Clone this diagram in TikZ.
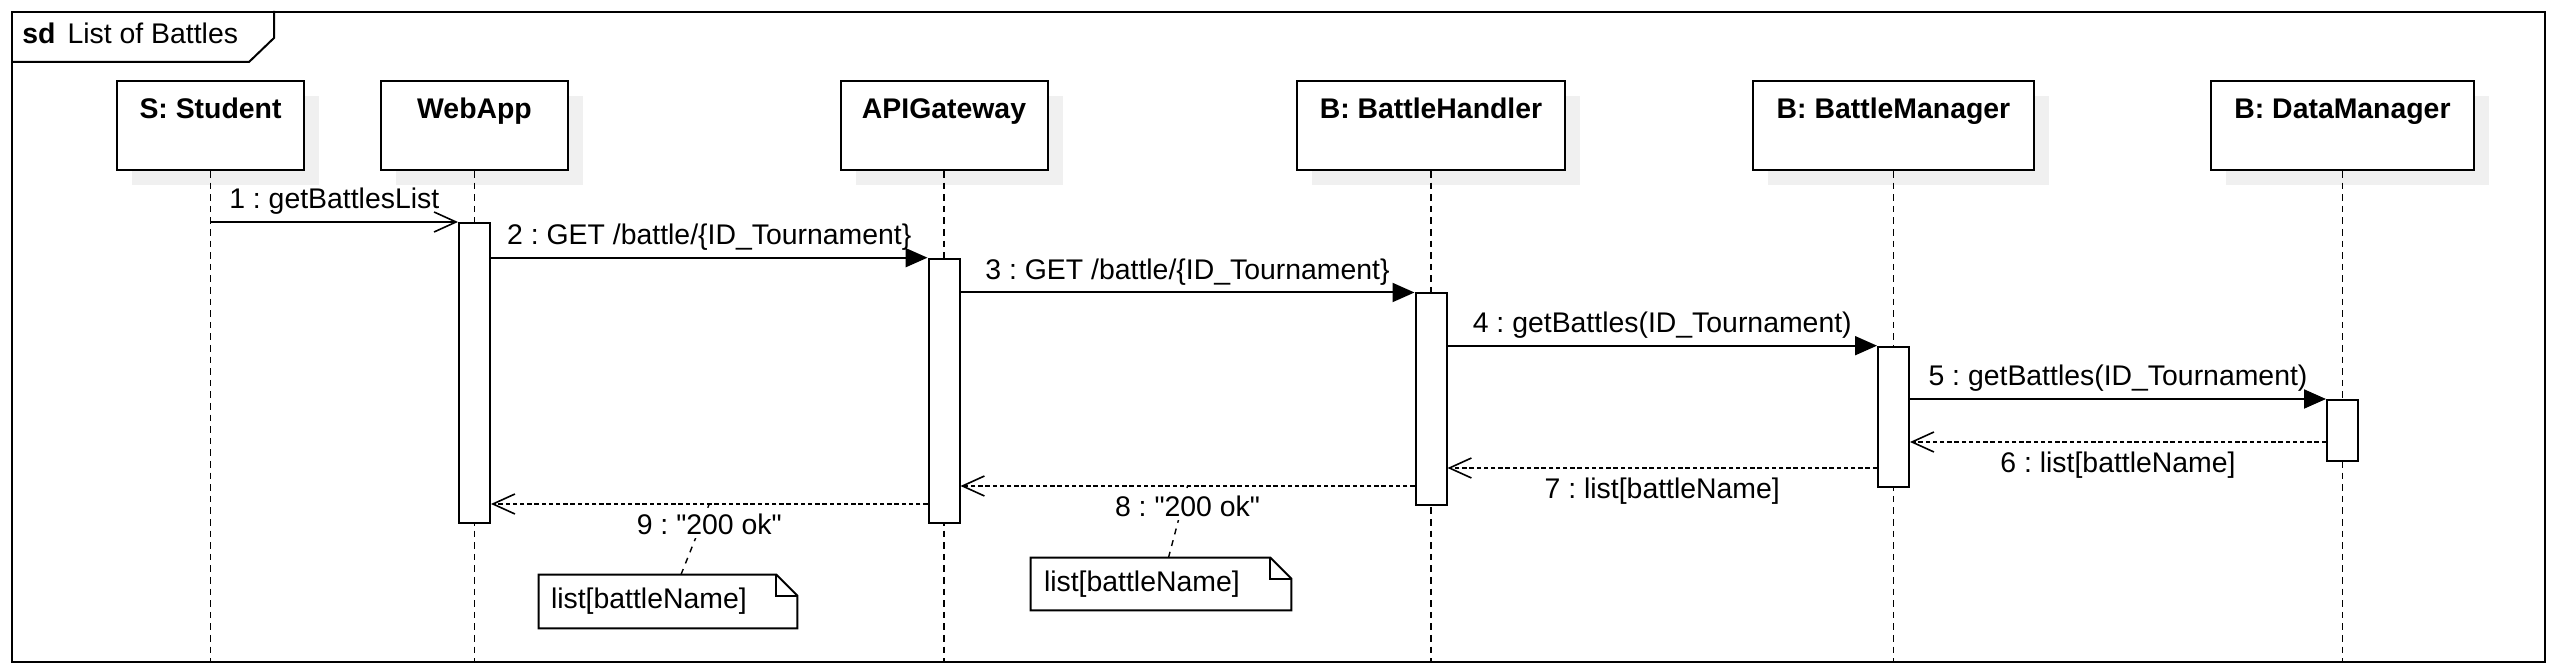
\documentclass[tikz,border=0pt]{standalone}
\usepackage{fontspec}
\setmainfont{Liberation Sans}[Ligatures=TeXOff]
\usetikzlibrary{arrows.meta,shadows,calc}
\newcommand{\labfont}{\fontsize{14.2}{17}\selectfont}
\frenchspacing
\begin{document}
\begin{tikzpicture}[x=0.5pt,y=-0.5pt,font=\labfont,
  head/.style={draw, line width=1pt, fill=white, minimum height=44.5pt, inner sep=0pt,
    drop shadow={shadow xshift=7.5pt, shadow yshift=-7.5pt, fill=black!6, opacity=1}},
  headtitle/.style={font=\labfont\bfseries, anchor=base, inner sep=0pt},
  lifeline/.style={line width=0.6pt, dash pattern=on 3.3pt off 2.5pt},
  act/.style={draw, line width=1pt, fill=white, minimum width=15.5pt, inner sep=0pt, anchor=north},
  syncmsg/.style={line width=1pt, -{Triangle[length=11pt,width=9.5pt]}},
  asyncmsg/.style={line width=0.9pt, -{Straight Barb[length=11pt,width=10pt,line width=0.8pt]}},
  retmsg/.style={line width=0.9pt, dash pattern=on 2.2pt off 1.4pt, -{Straight Barb[length=11pt,width=10pt,line width=0.8pt,sep=0pt]}},
  msglab/.style={anchor=base, inner sep=0pt, yshift=6.5pt},
  retlab/.style={anchor=base, inner sep=1.5pt, fill=white, yshift=-15.5pt},
  notebox/.style={minimum height=26.5pt, minimum width=129pt, inner xsep=6pt, inner ysep=0pt, text width=117pt, align=left},
  noteline/.style={line width=0.7pt, dash pattern=on 3pt off 3pt},
]
\useasboundingbox (0,0) rectangle (2556,672);

% frame
\node[draw, line width=1pt, minimum width=1266.5pt, minimum height=325pt, anchor=north west, inner sep=0pt] (frame) at (11,11) {};
\draw[line width=1pt] (frame.north west) ++(263,0) -- ++(0,27) -- ++(-25,24) -- ++(-238,0);
\node[anchor=base west, inner sep=0pt] (framelab) at (22,44) {\textbf{sd}\hspace{6pt}List of Battles};
\coordinate (bottom) at (0,661);

% lifeline heads
\node[head, minimum width=93.5pt] (student) at (210.5,125.5) {};
\node[head, minimum width=93.5pt] (webapp) at (474.5,125.5) {};
\node[head, minimum width=103.5pt] (api) at (944,125.5) {};
\node[head, minimum width=134pt] (bh) at (1431,125.5) {};
\node[head, minimum width=140.5pt] (bm) at (1893.5,125.5) {};
\node[head, minimum width=131.5pt] (dm) at (2342.5,125.5) {};

\node[headtitle] (tstudent) at (210.5,119) {S: Student};
\node[headtitle] (twebapp) at (474.5,119) {WebApp};
\node[headtitle] (tapi) at (944,119) {APIGateway};
\node[headtitle] (tbh) at (1431,119) {B: BattleHandler};
\node[headtitle] (tbm) at (1893.5,119) {B: BattleManager};
\node[headtitle] (tdm) at (2342.5,119) {B: DataManager};

% lifelines
\foreach \n in {student,webapp,api,bh,bm,dm}
  \draw[lifeline] (\n.south) -- (\n.south |- bottom);

% activations
\node[act, minimum height=149.85pt] (webact) at (474.5,222) {};
\node[act, minimum height=132pt] (apiact) at (944,257.7) {};
\node[act, minimum height=105.75pt] (bhact) at (1431,292.5) {};
\node[act, minimum height=70.4pt] (bmact) at (1893.5,345.7) {};
\node[act, minimum height=30.5pt] (dmact) at (2342.5,399) {};

\coordinate (r6) at (0,442);
\coordinate (r7) at (0,468);
\coordinate (r8) at (0,486);
\coordinate (r9) at (0,504);

% notes
\node[notebox] (n9) at (668,601.5) {list[battleName]};
\node[notebox, minimum width=130pt, minimum height=26pt] (n8) at (1161,584) {list[battleName]};
\foreach \n in {n8,n9}{
  \draw[line width=1pt] (\n.north west) -- ($(\n.north east)+(-21,0)$) -- ($(\n.north east)+(0,21)$) -- (\n.south east) -- (\n.south west) -- cycle;
  \draw[line width=1pt] ($(\n.north east)+(-21,0)$) -- ($(\n.north east)+(-21,21)$) -- ($(\n.north east)+(0,21)$);
}
\draw[noteline] ($(n9.north)+(13,0)$) -- ($(webact.east |- r9)!0.5!(apiact.west |- r9)$);
\draw[noteline] ($(n8.north)+(7.5,0)$) -- ($(apiact.east |- r8)!0.5!(bhact.west |- r8)$);

% messages
\draw[asyncmsg] (student.south |- webact.north) -- (webact.north west)
  node[msglab, midway] {1 : getBattlesList};
\draw[syncmsg] (webact.east |- apiact.north) -- (apiact.north west)
  node[msglab, midway] {2 : GET /battle/\{ID\_Tournament\}};
\draw[syncmsg] (apiact.east |- bhact.north) -- (bhact.north west)
  node[msglab, midway] {3 : GET /battle/\{ID\_Tournament\}};
\draw[syncmsg] (bhact.east |- bmact.north) -- (bmact.north west)
  node[msglab, midway] {4 : getBattles(ID\_Tournament)};
\draw[syncmsg] (bmact.east |- dmact.north) -- (dmact.north west)
  node[msglab, midway] {5 : getBattles(ID\_Tournament)};
\draw[retmsg] (dmact.west |- r6) -- (bmact.east |- r6)
  node[retlab, midway] {6 : list[battleName]};
\draw[retmsg] (bmact.west |- r7) -- (bhact.east |- r7)
  node[retlab, midway] {7 : list[battleName]};
\draw[retmsg] (bhact.west |- r8) -- (apiact.east |- r8)
  node[retlab, midway] {8 : "200 ok"};
\draw[retmsg] (apiact.west |- r9) -- (webact.east |- r9)
  node[retlab, midway] {9 : "200 ok"};
\end{tikzpicture}
\end{document}
